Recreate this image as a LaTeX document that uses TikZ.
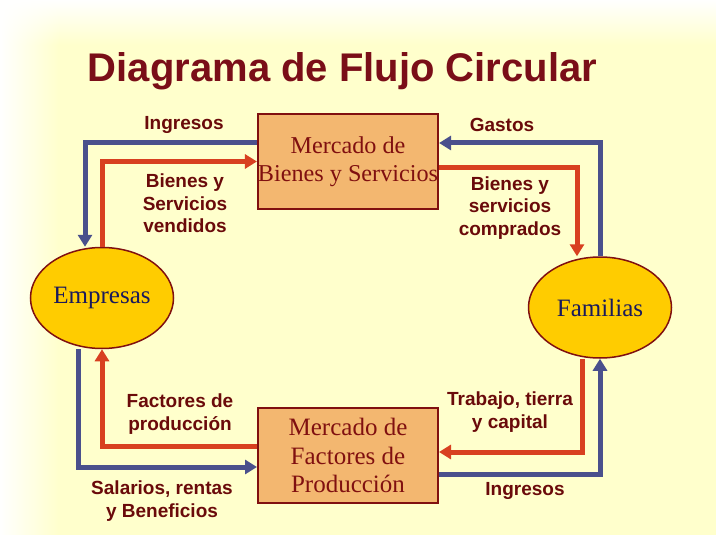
\documentclass[tikz,border=0pt]{standalone}
\usepackage{fontspec}
\setmainfont{Liberation Serif}
\newfontfamily\etiqfont{Liberation Sans}
\usetikzlibrary{arrows.meta}
\usetikzlibrary{shapes.geometric}
\usetikzlibrary{fadings}

\definecolor{fondo}{RGB}{255,255,204}
\definecolor{titulo}{RGB}{122,14,24}
\definecolor{rotulo}{RGB}{106,10,10}
\definecolor{borde}{RGB}{128,16,16}
\definecolor{caja}{RGB}{243,183,112}
\definecolor{oro}{RGB}{255,204,0}
\definecolor{tinta}{RGB}{26,26,92}
\definecolor{azul}{RGB}{74,80,140}
\definecolor{rojo}{RGB}{216,64,32}

\tikzset{
  mercado/.style={draw=borde, line width=2pt, fill=caja, text=borde, minimum width=180pt, minimum height=95pt, inner sep=0pt, align=center, font=\fontsize{24.2}{28.5}\selectfont},
  agente/.style={ellipse, draw=borde, line width=1.5pt, fill=oro, text=tinta, minimum width=143pt, minimum height=101pt, inner sep=0pt, font=\fontsize{25}{30}\selectfont},
  etiq/.style={text=rotulo, align=center, inner sep=0pt, font=\etiqfont\bfseries\fontsize{19}{22.5}\selectfont},
  flujoazul/.style={draw=azul, line width=5pt, -{Triangle[length=12pt,width=14pt]}},
  flujorojo/.style={draw=rojo, line width=5pt, -{Triangle[length=12pt,width=14pt]}}
}

\begin{document}
\begin{tikzpicture}[x=1pt, y=-1pt]
    \useasboundingbox (0,0) rectangle (720,540);
    % Background
    \fill[fondo] (0,0) rectangle (720,540);
    \fill[white, path fading=south] (0,0) rectangle (720,45);
    \fill[white, path fading=east] (0,0) rectangle (60,540);
    \fill[white] (716,0) rectangle (720,540);
    \fill[white] (0,535) rectangle (720,540);

    % Title
    \node[text=titulo, anchor=base, font=\etiqfont\bfseries\fontsize{40}{48}\selectfont] (tit) at (342.5,82) {Diagrama de Flujo Circular};

    % Markets
    \node[mercado] (mbs) at (348,161.5) {Mercado de\\Bienes y Servicios};
    \node[mercado, font=\fontsize{25}{28.5}\selectfont] (mfp) at (348,455.5) {Mercado de\\Factores de\\Producción};

    % Agents
    \node[agente] (emp) at (102,298) {Empresas};
    \node[agente] (fam) at (600,307.5) {Familias};

    % Upper flows
    \draw[flujoazul] ([yshift=18.5pt]mbs.west) -| ([xshift=-17pt]emp.north);
    \draw[flujorojo] (emp.north) |- (mbs.west);
    \draw[flujoazul] (fam.north) |- ([yshift=18.5pt]mbs.east);
    \draw[flujorojo] ([yshift=-6.5pt]mbs.east) -| ([xshift=-23pt]fam.north);

    % Lower flows
    \draw[flujoazul] ([xshift=-24pt]emp.south) |- ([yshift=-11.5pt]mfp.west);
    \draw[flujorojo] ([yshift=9.5pt]mfp.west) -| (emp.south);
    \draw[flujorojo] ([xshift=-18pt]fam.south) |- ([yshift=3.5pt]mfp.east);
    \draw[flujoazul] ([yshift=-18.5pt]mfp.east) -| (fam.south);

    % Flow labels
    \node[etiq] (ingA) at (184,125) {Ingresos};
    \node[etiq] (bsv) at (185,203.5) {Bienes y\\Servicios\\vendidos};
    \node[etiq] (gas) at (502,125) {Gastos};
    \node[etiq] (bsc) at (510,208) {Bienes y\\servicios\\comprados};
    \node[etiq] (fdp) at (180,414) {Factores de\\producción};
    \node[etiq] (sal) at (162,501) {Salarios, rentas\\y Beneficios};
    \node[etiq] (tra) at (510,412) {Trabajo, tierra\\y capital};
    \node[etiq] (ingB) at (525,491) {Ingresos};
\end{tikzpicture}
\end{document}
